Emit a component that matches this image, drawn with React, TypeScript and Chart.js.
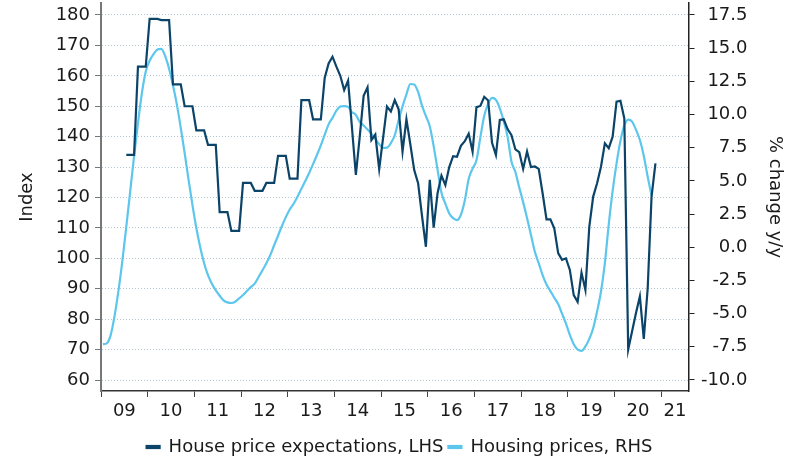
import React, { useEffect, useRef } from 'react';
import { Chart, registerables } from 'chart.js';

Chart.register(...registerables);

const FONT = '"DejaVu Sans", Verdana, sans-serif';
const TEXT = '#1a1a1a';
const DARK = '#0b4468';
const LIGHT = '#5cc6ec';
const GRID = '#b3c7d3';

const START_YEAR = 2009;
const X_MIN = 2009;
const X_MAX = 2021.583;

// House price expectations (LHS, index), monthly from July 2009
const expectationsStartMonth = 6;
const expectations = [
  134, 134, 134, 163, 163, 163,
  178.7, 178.7, 178.7, 178.3, 178.3, 178.3, 157.2, 157.2, 157.2, 150, 150, 150,
  142.1, 142.1, 142.1, 137.3, 137.3, 137.3, 115.2, 115.2, 115.2, 109, 109, 109,
  124.8, 124.8, 124.8, 122.2, 122.2, 122.2, 124.8, 124.8, 124.8, 133.7, 133.7, 133.7,
  126.2, 126.2, 126.2, 152, 152, 152, 145.7, 145.7, 145.7, 159.4, 164.1, 166.3,
  163, 160, 155.3, 158.4, 143, 127.4, 140, 153.4, 156.2, 138.9, 140.7, 129.3,
  139.6, 149.9, 148.3, 152, 149, 135.1, 145.7, 137.5, 129, 124.7, 114, 103.8,
  125.8, 110.1, 121.4, 127.2, 124.1, 130, 133.6, 133.4, 137, 138.5, 141, 135.1,
  149.7, 150.1, 153.1, 151.9, 138, 134, 145.5, 145.7, 142.5, 140.5, 135.8, 134.9,
  129.4, 135.1, 130, 130.2, 129.4, 121.4, 112.8, 112.8, 109.9, 101.7, 99.5, 100,
  96.2, 87.9, 85.7, 95.3, 89.6, 110.4, 120.3, 124.7, 130.1, 137.8, 136.2, 140,
  151.5, 151.8, 146, 70, 76, 82, 87.5, 73.5, 90, 120.3, 131.2,
];

// Housing prices (RHS, % change y/y), monthly from January 2009
const housingStartMonth = 0;
const housing = [
  -7.3, -7.24, -6.6, -5.15, -3.25, -1.0, 1.55, 4.2, 6.85, 9.35, 11.6, 13.25,
  14.05, 14.55, 14.9, 14.95, 14.4, 13.45, 12.2, 10.75, 9.0, 7.1, 5.1, 3.2,
  1.45, 0.0, -1.2, -2.1, -2.75, -3.25, -3.65, -4.0, -4.15, -4.2, -4.1, -3.85,
  -3.6, -3.3, -3.0, -2.74, -2.24, -1.73, -1.2, -0.59, 0.15, 0.87, 1.6, 2.27,
  2.85, 3.28, 3.81, 4.4, 4.99, 5.6, 6.26, 6.95, 7.68, 8.48, 9.26, 9.75,
  10.29, 10.6, 10.64, 10.58, 10.18, 9.97, 9.44, 9.18, 8.88, 8.56, 8.17, 7.77,
  7.49, 7.51, 7.85, 8.44, 9.59, 10.62, 11.52, 12.3, 12.26, 11.7, 10.67, 9.89,
  9.12, 7.62, 5.85, 4.1, 3.29, 2.55, 2.19, 2.05, 2.45, 3.52, 5.15, 5.93,
  6.55, 8.28, 9.9, 10.8, 11.25, 11.1, 10.46, 9.5, 8.33, 6.45, 5.67, 4.5,
  3.4, 2.2, 0.95, -0.33, -1.2, -2.1, -2.8, -3.3, -3.8, -4.28, -5.0, -5.75,
  -6.6, -7.3, -7.7, -7.8, -7.47, -6.9, -6.1, -4.83, -3.35, -1.2, 1.73, 4.25,
  6.3, 8.0, 9.18, 9.62, 9.47, 8.85, 8.08, 6.9, 5.33, 3.9,
];

const leftTicks = [60, 70, 80, 90, 100, 110, 120, 130, 140, 150, 160, 170, 180];
const rightTicks = [-10, -7.5, -5, -2.5, 0, 2.5, 5, 7.5, 10, 12.5, 15, 17.5];
const yearTicks = [2009, 2010, 2011, 2012, 2013, 2014, 2015, 2016, 2017, 2018, 2019, 2020, 2021];

const LEFT_MIN = 56.384;
const LEFT_MAX = 183.945;
const RIGHT_MIN = -10.829;
const RIGHT_MAX = 18.404;

function toPoints(startMonth: number, values: number[]) {
  return values.map((v, i) => ({ x: START_YEAR + (startMonth + i + 0.5) / 12, y: v }));
}

function isWhole(v: number) {
  return Math.abs(v - Math.round(v)) < 1e-9;
}

const rightLabelsPlugin = {
  id: 'rightLabels',
  afterDraw(chart: any) {
    const s = chart.scales.y2;
    const ctx = chart.ctx;
    ctx.save();
    ctx.font = `18px ${FONT}`;
    ctx.fillStyle = TEXT;
    ctx.textAlign = 'right';
    ctx.textBaseline = 'middle';
    for (const t of s.ticks) {
      const y = s.getPixelForValue(t.value);
      ctx.fillText(Number(t.value).toFixed(1), s.left + 59, y);
    }
    ctx.restore();
  },
};

export default function App() {
  const ref = useRef<HTMLCanvasElement | null>(null);

  useEffect(() => {
    if (!ref.current) return;
    Chart.defaults.font.family = FONT;
    Chart.defaults.font.size = 18;
    Chart.defaults.color = TEXT;

    const labelPositions = yearTicks
      .slice(0, -1)
      .map((y) => y + 0.5)
      .concat([(yearTicks[yearTicks.length - 1] + X_MAX) / 2]);

    const chart = new Chart(ref.current, {
      type: 'line',
      data: {
        datasets: [
          {
            label: 'House price expectations, LHS',
            data: toPoints(expectationsStartMonth, expectations),
            borderColor: DARK,
            backgroundColor: DARK,
            borderWidth: 2.2,
            pointRadius: 0,
            tension: 0,
            yAxisID: 'y',
          },
          {
            label: 'Housing prices, RHS',
            data: toPoints(housingStartMonth, housing),
            borderColor: LIGHT,
            backgroundColor: LIGHT,
            borderWidth: 2.2,
            pointRadius: 0,
            cubicInterpolationMode: 'monotone',
            yAxisID: 'y2',
          },
        ],
      },
      options: {
        responsive: false,
        animation: false,
        parsing: false as any,
        layout: { padding: { top: 3, left: 0, right: 0, bottom: -5 } },
        plugins: {
          legend: {
            position: 'bottom',
            labels: {
              boxWidth: 13,
              boxHeight: 2,
              padding: 5,
              color: TEXT,
              font: { family: FONT, size: 18 },
            },
          },
          tooltip: { enabled: false },
        },
        scales: {
          x: {
            type: 'linear',
            min: X_MIN,
            max: X_MAX,
            afterBuildTicks: (s: any) => {
              const vals = [...yearTicks, ...labelPositions].sort((a, b) => a - b);
              s.ticks = vals.map((v) => ({ value: v }));
            },
            afterFit: (s: any) => {
              s.height = 42;
              s.paddingLeft = 0;
              s.paddingRight = 0;
            },
            ticks: {
              autoSkip: false,
              maxRotation: 0,
              minRotation: 0,
              padding: 4,
              color: TEXT,
              font: { family: FONT, size: 18 },
              callback: (value: any) => {
                const v = Number(value);
                if (isWhole(v)) return '';
                return String(Math.floor(v) % 100).padStart(2, '0');
              },
            },
            grid: {
              drawOnChartArea: false,
              tickLength: 6,
              color: '#444',
              tickColor: (c: any) => (c.tick && isWhole(c.tick.value) ? '#444' : 'rgba(0,0,0,0)'),
            },
            border: { color: '#333', width: 1.5 },
          },
          y: {
            position: 'left',
            min: LEFT_MIN,
            max: LEFT_MAX,
            afterBuildTicks: (s: any) => {
              s.ticks = leftTicks.map((v) => ({ value: v }));
            },
            afterFit: (s: any) => {
              s.width = 101;
              s.paddingTop = 0;
              s.paddingBottom = 0;
            },
            ticks: { padding: 5, color: TEXT, font: { family: FONT, size: 18 } },
            grid: { color: GRID, lineWidth: 1, tickColor: '#777', tickLength: 6, tickBorderDash: [] },
            border: { color: '#777', width: 2, dash: [1, 2] },
            title: {
              display: true,
              text: 'Index',
              color: TEXT,
              font: { family: FONT, size: 18 },
              padding: { top: 16.2, bottom: 0 },
            },
          },
          y2: {
            position: 'right',
            min: RIGHT_MIN,
            max: RIGHT_MAX,
            afterBuildTicks: (s: any) => {
              s.ticks = rightTicks.map((v) => ({ value: v }));
            },
            afterFit: (s: any) => {
              s.width = 110.5;
              s.paddingTop = 0;
              s.paddingBottom = 0;
            },
            ticks: { display: false },
            grid: { drawOnChartArea: false, tickLength: 6, color: '#222', tickColor: '#222' },
            border: { color: '#222', width: 1.5 },
            title: {
              display: true,
              text: '% change y/y',
              color: TEXT,
              font: { family: FONT, size: 18 },
              padding: { top: 13.2, bottom: 0 },
            },
          },
        },
      } as any,
      plugins: [rightLabelsPlugin],
    });

    return () => chart.destroy();
  }, []);

  return (
    <div style={{ position: 'absolute', left: 0, top: 0, width: 799, height: 461 }}>
      <canvas ref={ref} width={799} height={461} style={{ display: 'block', width: 799, height: 461 }} />
    </div>
  );
}
